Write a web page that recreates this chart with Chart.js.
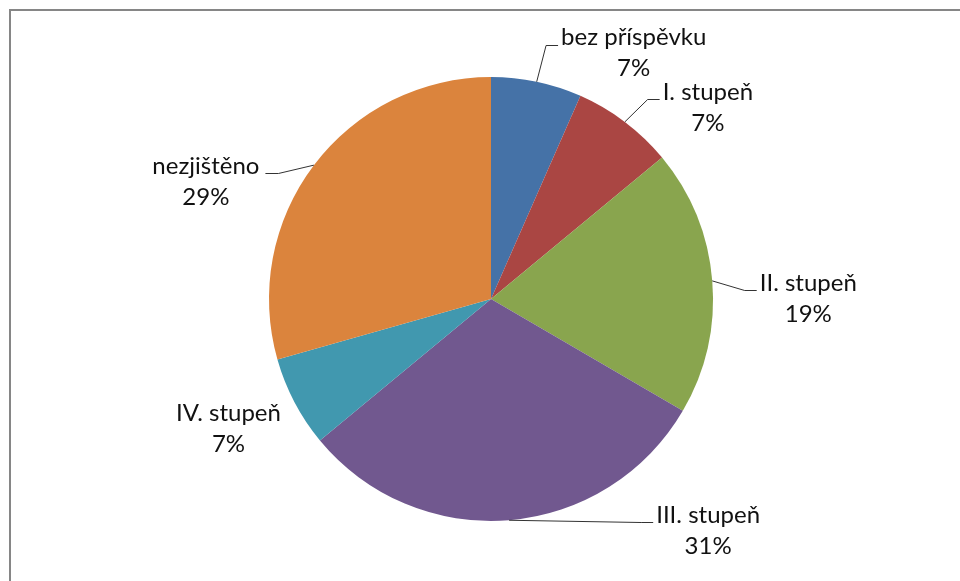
<!DOCTYPE html>
<html>
<head>
<meta charset="utf-8">
<script src="https://cdn.jsdelivr.net/npm/chart.js@4"></script>
<style>
  body { margin: 0; background: #fff; }
  #wrap { width: 960px; height: 581px; }
</style>
</head>
<body>
<div id="wrap"><canvas id="myChart" width="960" height="581"></canvas></div>
<script>
const ctx = document.getElementById('myChart').getContext('2d');

// Data
const categories = ['bez příspěvku', 'I. stupeň', 'II. stupeň', 'III. stupeň', 'IV. stupeň', 'nezjištěno'];
const shares = [6.6, 7.4, 19.4, 30.6, 6.6, 29.4];
const colors = ['#4572A7', '#AA4643', '#89A54E', '#71588F', '#4198AF', '#DB843D'];

// label placement, relative to the slice edge
const labelOffsets = [[97, -44], [83, -30], [96, 2], [199, -5], [-66, 11], [-108, 1]];
const showLeader = [true, true, true, true, false, true];

const FONT = '24px Lato';

const frame = {
  id: 'frame',
  beforeDraw(chart) {
    const c = chart.ctx;
    c.save();
    c.fillStyle = '#fff';
    c.fillRect(0, 0, chart.width, chart.height);
    c.strokeStyle = '#868686';
    c.lineWidth = 2;
    c.beginPath();
    c.moveTo(10, chart.height + 5);
    c.lineTo(10, 10);
    c.lineTo(chart.width + 5, 10);
    c.stroke();
    c.restore();
  }
};

const pieLabels = {
  id: 'pieLabels',
  afterDatasetsDraw(chart) {
    const c = chart.ctx;
    const meta = chart.getDatasetMeta(0);
    const total = shares.reduce((a, b) => a + b, 0);
    c.save();
    c.font = FONT;
    c.fillStyle = '#111';
    c.textAlign = 'center';
    c.textBaseline = 'middle';
    meta.data.forEach((arc, i) => {
      const p = arc.getProps(['x', 'y', 'startAngle', 'endAngle', 'outerRadius'], true);
      const mid = (p.startAngle + p.endAngle) / 2;
      const ex = p.x + Math.cos(mid) * p.outerRadius;
      const ey = p.y + Math.sin(mid) * p.outerRadius;
      const cx = ex + labelOffsets[i][0];
      const cy = ey + labelOffsets[i][1];
      const pct = Math.round(shares[i] / total * 100) + '%';
      c.fillText(categories[i], cx, cy);
      c.fillText(pct, cx, cy + 31);

      if (showLeader[i]) {
        const w = c.measureText(categories[i]).width;
        const ly = Math.round(cy + 7) + 0.5;
        let elbow, end;
        if (cx > ex) {
          end = cx - w / 2 - 3;
          elbow = end - 12;
        } else {
          end = cx + w / 2 + 6;
          elbow = end + 13;
        }
        c.strokeStyle = '#333';
        c.lineWidth = 1;
        c.beginPath();
        c.moveTo(ex, ey);
        c.lineTo(elbow, ly);
        c.lineTo(end, ly);
        c.stroke();
      }
    });
    c.restore();
  }
};

const config = {
  type: 'pie',
  data: {
    labels: categories,
    datasets: [{
      data: shares,
      backgroundColor: colors,
      borderWidth: 0,
      hoverOffset: 0
    }]
  },
  options: {
    responsive: false,
    animation: false,
    layout: { padding: { top: 77, bottom: 60, left: 22, right: 0 } },
    plugins: {
      legend: { display: false },
      tooltip: { enabled: false }
    }
  },
  plugins: [frame, pieLabels]
};

const myChart = new Chart(ctx, config);
</script>
</body>
</html>
